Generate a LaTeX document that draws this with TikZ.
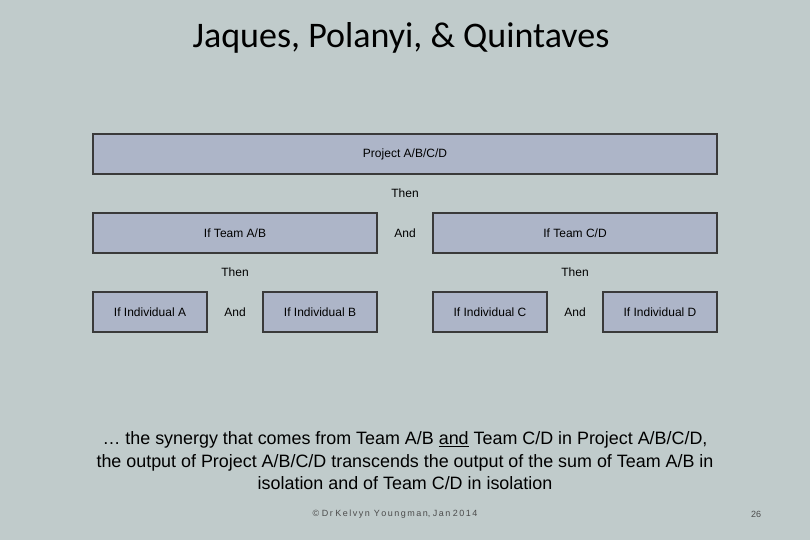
\documentclass[tikz,border=0pt]{standalone}
\usepackage{fontspec}
\setmainfont{Liberation Sans}
\newfontfamily\titlefont{Carlito}
\definecolor{bg}{HTML}{C0CBCB}
\definecolor{boxf}{HTML}{ADB5C8}
\definecolor{boxd}{HTML}{3A3A3A}
\begin{document}
\begin{tikzpicture}[x=1pt,y=-1pt,
  bx/.style={draw=boxd,line width=2.6pt,fill=boxf,inner sep=0pt,font=\fontsize{12}{14}\selectfont},
  lbl/.style={font=\fontsize{12}{14}\selectfont,inner sep=0pt}]
\fill[bg] (0,0) rectangle (810,540);
\useasboundingbox (0,0) rectangle (810,540);
\node[font=\titlefont\fontsize{36}{40}\selectfont] (title) at (401,38) {Jaques, Polanyi, \& Quintaves};
\node[bx,minimum width=624,minimum height=40] (proj) at (405,154) {Project A/B/C/D};
\node[lbl] (then0) at (405,193) {Then};
\node[bx,minimum width=284,minimum height=40] (tab) at (235,233) {If Team A/B};
\node[lbl] (and0) at (405,233) {And};
\node[bx,minimum width=284,minimum height=40] (tcd) at (575,233) {If Team C/D};
\node[lbl] (then1) at (235,272) {Then};
\node[lbl] (then2) at (575,272) {Then};
\node[bx,minimum width=114,minimum height=40] (ia) at (150,312) {If Individual A};
\node[lbl] (and1) at (235,312) {And};
\node[bx,minimum width=114,minimum height=40] (ib) at (320,312) {If Individual B};
\node[bx,minimum width=114,minimum height=40] (ic) at (490,312) {If Individual C};
\node[lbl] (and2) at (575,312) {And};
\node[bx,minimum width=114,minimum height=40] (id) at (660,312) {If Individual D};
\node[font=\fontsize{17.9}{22.5}\selectfont,align=center] (body) at (405,461) {… the synergy that comes from Team A/B \underline{and} Team C/D in Project A/B/C/D,\\the output of Project A/B/C/D transcends the output of the sum of Team A/B in\\isolation and of Team C/D in isolation};
\node[font=\fontsize{9}{10}\selectfont,text=black!70] (foot) at (395,514) {© D\,r K\,e\,l\,v\,y\,n\, Y\,o\,u\,n\,g\,m\,a\,n, J\,a\,n 2\,0\,1\,4};
\node[font=\fontsize{9}{10}\selectfont,text=black!70] (pg) at (756,514) {26};
\end{tikzpicture}
\end{document}
